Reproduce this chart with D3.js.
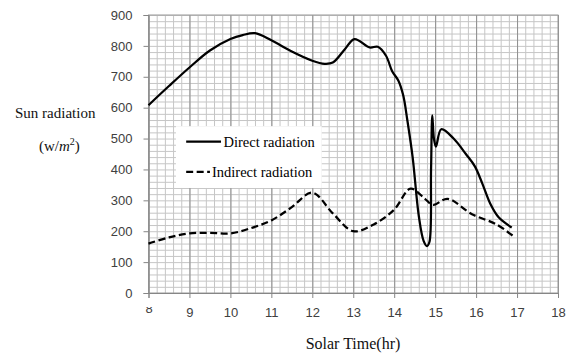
<!DOCTYPE html>
<html>
<head>
<meta charset="utf-8">
<script src="https://cdn.jsdelivr.net/npm/d3@7"></script>
<style>
    body { margin: 0; background: #fff; }
    .tick text { font-family: "Liberation Sans", Arial, sans-serif; font-size: 13px; fill: #404040; }
</style>
</head>
<body>
<div id="canvas"></div>
<script>
// solar time (hr) / radiation (w/m2)
const directTime = [8.0, 8.5, 9.0, 9.5, 10.0, 10.3, 10.6, 11.0, 11.5, 12.0, 12.3, 12.5, 12.8, 13.03, 13.4, 13.6, 13.8, 13.95, 14.1, 14.22, 14.32, 14.45, 14.6, 14.72, 14.8, 14.86, 14.9, 14.93, 14.97, 15.02, 15.15, 15.45, 15.75, 15.97, 16.15, 16.35, 16.55, 16.87];
const directValue = [608, 670, 730, 785, 822, 835, 841, 818, 782, 752, 742, 746, 790, 822, 795, 797, 768, 718, 688, 640, 560, 440, 250, 168, 152, 165, 400, 575, 500, 474, 530, 500, 450, 410, 355, 288, 245, 212];

const indirectTime = [8.0, 8.5, 9.0, 9.5, 10.0, 10.5, 11.0, 11.5, 12.0, 12.5, 13.0, 13.5, 14.0, 14.4, 14.75, 14.95, 15.3, 15.9, 16.5, 16.95];
const indirectValue = [160, 180, 193, 195, 193, 210, 235, 278, 325, 258, 200, 222, 270, 338, 305, 285, 305, 255, 222, 180];

const xTicks = [8, 9, 10, 11, 12, 13, 14, 15, 16, 17, 18];
const yTicks = [0, 100, 200, 300, 400, 500, 600, 700, 800, 900];
const xMinor = d3.range(8, 18.001, 0.2);
const yMinor = d3.range(0, 900.001, 20);

const seriesNames = ["Direct radiation", "Indirect radiation"];

const toPoints = (times, values) => times.map((t, i) => ({ t: t, v: values[i] }));

function drawChart() {
    let margin = {top: 15, right: 16, bottom: 63, left: 148.5};
    let width = 574 - margin.left - margin.right;
    let height = 356 - margin.top - margin.bottom;

    let svg = d3.select("#canvas")
        .append("svg")
        .attr("width", 574)
        .attr("height", 356)
        .append("g")
        .attr("transform", "translate(" + margin.left + "," + margin.top + ")");

    let x = d3.scaleLinear().domain([8, 18]).range([0, width]);
    let y = d3.scaleLinear().domain([0, 900]).range([height, 0]);

    // minor grid
    svg.append("g")
        .attr("transform", "translate(0," + height + ")")
        .call(d3.axisBottom(x).tickValues(xMinor).tickSize(-height).tickFormat(""))
        .call(g => g.select(".domain").remove())
        .call(g => g.selectAll("line").attr("stroke", "#c6c6c6"));
    svg.append("g")
        .call(d3.axisLeft(y).tickValues(yMinor).tickSize(-width).tickFormat(""))
        .call(g => g.select(".domain").remove())
        .call(g => g.selectAll("line").attr("stroke", "#c6c6c6"));

    // major vertical grid
    svg.append("g")
        .attr("transform", "translate(0," + height + ")")
        .call(d3.axisBottom(x).tickValues(xTicks).tickSize(-height).tickFormat(""))
        .call(g => g.select(".domain").remove())
        .call(g => g.selectAll("line").attr("stroke", "#8f8f8f"));

    // plot border
    svg.append("rect")
        .attr("x", 0).attr("y", 0)
        .attr("width", width).attr("height", height)
        .attr("fill", "none")
        .attr("stroke", "#9a9a9a");

    // axes
    let yAxis = svg.append("g")
        .call(d3.axisLeft(y).tickValues(yTicks).tickSize(5).tickPadding(11));
    yAxis.selectAll("line").attr("stroke", "#868686");
    yAxis.select(".domain").attr("stroke", "#868686");

    let xAxis = svg.append("g")
        .attr("transform", "translate(0," + height + ")")
        .call(d3.axisBottom(x).tickValues(xTicks).tickSize(5).tickPadding(10));
    xAxis.selectAll("line").attr("stroke", "#868686");
    xAxis.select(".domain").attr("stroke", "#868686");

    // the first x label is cut off in the original
    svg.append("defs").append("clipPath")
        .attr("id", "clip8")
        .append("rect")
        .attr("x", -10).attr("y", 14)
        .attr("width", 20).attr("height", 20);
    xAxis.selectAll(".tick text")
        .filter(d => d === 8)
        .attr("y", 10.5)
        .attr("clip-path", "url(#clip8)");

    // legend
    let legend = svg.append("g");
    legend.append("rect")
        .attr("x", x(8.67)).attr("y", y(540))
        .attr("width", x(12.23) - x(8.67)).attr("height", y(340) - y(540))
        .attr("fill", "#fff");
    legend.append("line")
        .attr("x1", x(8.92)).attr("x2", x(9.77))
        .attr("y1", y(490)).attr("y2", y(490))
        .attr("stroke", "#000").attr("stroke-width", 2.25);
    legend.append("text")
        .attr("x", x(9.83)).attr("y", y(490) + 5)
        .attr("font-family", "'Liberation Serif', 'Times New Roman', serif")
        .attr("font-size", "14.5px")
        .text(seriesNames[0]);
    legend.append("line")
        .attr("x1", x(8.92)).attr("x2", x(9.5))
        .attr("y1", y(392)).attr("y2", y(392))
        .attr("stroke", "#000").attr("stroke-width", 2.25)
        .attr("stroke-dasharray", "7,3.5");
    legend.append("text")
        .attr("x", x(9.55)).attr("y", y(392) + 5)
        .attr("font-family", "'Liberation Serif', 'Times New Roman', serif")
        .attr("font-size", "14.5px")
        .text(seriesNames[1]);

    // series
    let line = d3.line()
        .x(d => x(d.t))
        .y(d => y(d.v))
        .curve(d3.curveCatmullRom.alpha(0.5));

    svg.append("path")
        .datum(toPoints(directTime, directValue))
        .attr("fill", "none")
        .attr("stroke", "#000")
        .attr("stroke-width", 2.25)
        .attr("d", line);

    svg.append("path")
        .datum(toPoints(indirectTime, indirectValue))
        .attr("fill", "none")
        .attr("stroke", "#000")
        .attr("stroke-width", 2.25)
        .attr("stroke-dasharray", "7,3.5")
        .attr("d", line);

    // axis titles
    let root = d3.select("svg");
    root.append("text")
        .attr("x", 15).attr("y", 118)
        .attr("font-family", "'Liberation Serif', 'Times New Roman', serif")
        .attr("font-size", "15px")
        .attr("fill", "#111")
        .text("Sun radiation");
    let unit = root.append("text")
        .attr("x", 39).attr("y", 151)
        .attr("font-family", "'Liberation Serif', 'Times New Roman', serif")
        .attr("font-size", "15px")
        .attr("fill", "#111");
    unit.append("tspan").text("(w/");
    unit.append("tspan").attr("font-style", "italic").text("m");
    unit.append("tspan").attr("dy", -6).attr("font-size", "10px").text("2");
    unit.append("tspan").attr("dy", 6).text(")");

    root.append("text")
        .attr("x", 353).attr("y", 349)
        .attr("text-anchor", "middle")
        .attr("font-family", "'Liberation Serif', 'Times New Roman', serif")
        .attr("font-size", "16px")
        .attr("fill", "#111")
        .text("Solar Time(hr)");
}

drawChart();
</script>
</body>
</html>
